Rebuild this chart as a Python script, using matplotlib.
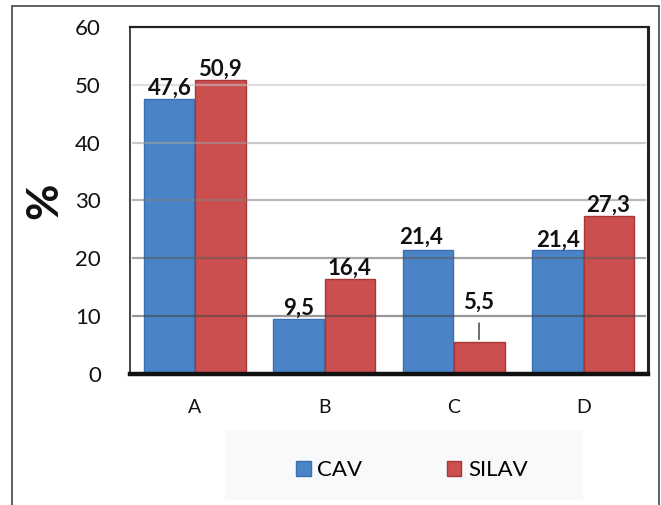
import matplotlib
matplotlib.use("Agg")
import matplotlib.pyplot as plt
from matplotlib.patches import Rectangle, Patch
import numpy as np

categories = ["A", "B", "C", "D"]
cav = [47.6, 9.5, 21.4, 21.4]
silav = [50.9, 16.4, 5.5, 27.3]
cav_labels = ["47,6", "9,5", "21,4", "21,4"]
silav_labels = ["50,9", "16,4", "5,5", "27,3"]
yticks = [0, 10, 20, 30, 40, 50, 60]

plt.rcParams['font.family'] = ['Lato', 'DejaVu Sans']

W, H = 661, 505
fig = plt.figure(figsize=(W / 100, H / 100), dpi=100)
ax = fig.add_axes([130 / W, 1 - 374 / H, (648 - 130) / W, (374 - 27) / H])

x = np.arange(len(categories))
bw = 0.39
blue = "#4a84c6"
blue_e = "#3b6fb5"
red = "#cc4f4f"
red_e = "#a83838"
ax.bar(x - bw / 2 - 0.005, cav, bw, color=blue, edgecolor=blue_e, linewidth=1, zorder=2)
ax.bar(x + bw / 2 + 0.005, silav, bw, color=red, edgecolor=red_e, linewidth=1, zorder=2)

# gridlines drawn over bars, darker near the bottom
grid_cols = {10: "#444444", 20: "#5a5a5a", 30: "#808080", 40: "#a0a0a0", 50: "#c4c4c4"}
for v, c in grid_cols.items():
    ax.axhline(v, xmin=0.006, xmax=0.995, color=c, lw=1.6, alpha=0.55, zorder=3)

ax.set_xlim(-0.5, 3.5)
ax.set_ylim(0, 60)
ax.set_yticks(yticks)
ax.set_yticklabels([str(t) for t in yticks], fontsize=16, color="#111111")
ax.set_xticks(x)
ax.set_xticklabels(categories, fontsize=14, color="#111111")
ax.tick_params(axis='y', length=0, pad=21)
ax.tick_params(axis='x', length=0, pad=18)

for s in ["left", "top", "right"]:
    ax.spines[s].set_color("#222222")
ax.spines["left"].set_linewidth(1.2)
ax.spines["top"].set_linewidth(1.6)
ax.spines["right"].set_linewidth(2.2)
ax.spines["bottom"].set_linewidth(3.2)
ax.spines["bottom"].set_color("#111111")

ax.set_ylabel("%", fontsize=32, fontweight="bold", labelpad=8, color="#111111")

lab_kw = dict(textcoords="offset points", ha="center", va="bottom", fontsize=16,
              fontweight="bold", color="#111111", zorder=5)
for i in range(len(categories)):
    if i == 2:
        continue
    ax.annotate(cav_labels[i], (x[i] - bw / 2, cav[i]), xytext=(0, 0), **lab_kw)
    ax.annotate(silav_labels[i], (x[i] + bw / 2, silav[i]), xytext=(0, 0), **lab_kw)

# C group
ax.annotate(cav_labels[2], (x[2] - bw / 2 - 0.06, cav[2]), xytext=(0, 2), **lab_kw)
ax.annotate(silav_labels[2], (x[2] + bw / 2, silav[2]), xytext=(0, 21), **lab_kw)
ax.annotate("", (x[2] + bw / 2, silav[2]), xytext=(x[2] + bw / 2, silav[2] + 3.8),
            arrowprops=dict(arrowstyle="-", color="#333333", lw=1), zorder=5)

# legend background box
fig.patches.append(Rectangle((225 / W, 1 - 500 / H), (583 - 225) / W, (500 - 430) / H,
                             transform=fig.transFigure, facecolor="#f7f9fa", edgecolor="none", zorder=0))
handles = [Patch(facecolor=blue, edgecolor=blue_e, label="CAV"),
           Patch(facecolor=red, edgecolor=red_e, label="SILAV")]
fig.legend(handles=handles, loc="center", bbox_to_anchor=(412 / W, 1 - 470 / H), ncol=2,
           frameon=False, fontsize=16, handlelength=0.65, handleheight=0.65, handletextpad=0.3,
           columnspacing=3.8)

# outer frame
fig.patches.append(Rectangle((12 / W, -0.05), (659 - 12) / W, 1.05 - 6 / H,
                             transform=fig.transFigure, facecolor="none", edgecolor="#444444",
                             lw=1.2, zorder=10))

fig.savefig("out.png", dpi=100)
